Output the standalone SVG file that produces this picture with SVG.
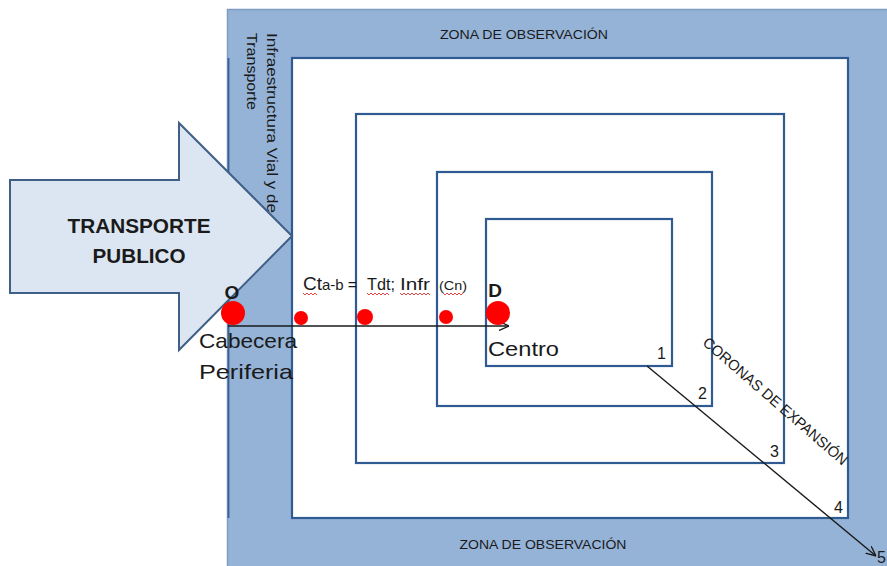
<svg xmlns="http://www.w3.org/2000/svg" width="887" height="566" viewBox="0 0 887 566">
<style>
.sq{fill:#ffffff;stroke:#2f5b92;stroke-width:2.2}
.t{font-family:"Liberation Sans",Arial,sans-serif;fill:#1a1a1a}
.lbl{font-family:"Liberation Sans",Arial,sans-serif;fill:#1a1a1a;font-size:13px}
.num{font-family:"Liberation Sans",Arial,sans-serif;fill:#1a1a1a;font-size:16px}
.b{font-weight:bold}
.dot{fill:#ff0000}
.con{stroke:#1a1a1a;stroke-width:1.4;fill:none}
.wavy{stroke:#e03030;stroke-width:0.9;fill:none}
</style>
<defs>
<marker id="ah" viewBox="0 0 10 10" refX="10" refY="5" markerWidth="10" markerHeight="10" markerUnits="userSpaceOnUse" orient="auto">
<path d="M0,0.5 L10,5 L0,9.5" fill="none" stroke="#1a1a1a" stroke-width="1.3"/>
</marker>
</defs>
<rect width="887" height="566" fill="#ffffff"/>
<g id="zona-observacion">
<rect x="227.5" y="9.5" width="700" height="600" fill="#95b3d7" stroke="#7f9cc4" stroke-width="1.5"/>
<line x1="228.5" y1="58" x2="228.5" y2="518" stroke="#3a6091" stroke-width="1.8"/>
<text class="lbl" x="524" y="39" text-anchor="middle" textLength="168" lengthAdjust="spacingAndGlyphs">ZONA DE OBSERVACIÓN</text>
<text class="lbl" x="543" y="549" text-anchor="middle" textLength="167" lengthAdjust="spacingAndGlyphs">ZONA DE OBSERVACIÓN</text>
</g>
<g id="infraestructura">
<text class="t" font-size="14" transform="translate(267,33) rotate(90)" textLength="180" lengthAdjust="spacingAndGlyphs">Infraestructura  Vial y de</text>
<text class="t" font-size="14" transform="translate(247,33) rotate(90)" textLength="77" lengthAdjust="spacingAndGlyphs">Transporte</text>
</g>
<g id="corona-4">
<rect class="sq" x="292" y="58" width="556" height="460"/>
<text class="num" x="834" y="513">4</text>
</g>
<g id="corona-3">
<rect class="sq" x="356" y="114" width="428" height="349"/>
<text class="num" x="770" y="457">3</text>
</g>
<g id="corona-2">
<rect class="sq" x="437" y="172" width="275" height="234"/>
<text class="num" x="698" y="399">2</text>
</g>
<g id="corona-1">
<rect class="sq" x="486" y="219" width="186" height="147"/>
<text class="num" x="657" y="359">1</text>
</g>
<g id="transporte-publico">
<polygon points="10,180 179,180 179,123 292,236 179,350 179,293 10,293" fill="#dce6f2" stroke="#3f5f86" stroke-width="2" stroke-linejoin="miter"/>
<text class="t b" font-size="20" x="139" y="233" text-anchor="middle" textLength="143" lengthAdjust="spacingAndGlyphs">TRANSPORTE</text>
<text class="t b" font-size="20" x="139" y="263" text-anchor="middle" textLength="93" lengthAdjust="spacingAndGlyphs">PUBLICO</text>
</g>
<g id="connectors">
<line class="con" x1="228" y1="326" x2="509" y2="326" marker-end="url(#ah)"/>
<line class="con" x1="647" y1="366" x2="876" y2="556" marker-end="url(#ah)"/>
</g>
<g id="origen">
<circle class="dot" cx="233" cy="313" r="12"/>
<text class="t b" font-size="19" x="232" y="299" text-anchor="middle">O</text>
<text class="t" font-size="21" x="199" y="348" textLength="98" lengthAdjust="spacingAndGlyphs">Cabecera</text>
<text class="t" font-size="21" x="199" y="379" textLength="94" lengthAdjust="spacingAndGlyphs">Periferia</text>
</g>
<g id="puntos">
<circle class="dot" cx="301" cy="318" r="7"/>
<circle class="dot" cx="365" cy="317" r="8"/>
<circle class="dot" cx="446" cy="317" r="7"/>
</g>
<g id="destino">
<circle class="dot" cx="498" cy="313" r="12"/>
<text class="t b" font-size="19" x="495" y="297" text-anchor="middle">D</text>
<text class="t" font-size="21" x="488" y="356" textLength="71" lengthAdjust="spacingAndGlyphs">Centro</text>
</g>
<g id="formula">
<text class="t" x="303" y="290"><tspan font-size="19">Ct</tspan><tspan font-size="15">a-b</tspan><tspan font-size="16" dx="4">=</tspan></text>
<text class="t" font-size="16" x="367" y="290" textLength="28" lengthAdjust="spacingAndGlyphs">Tdt;</text>
<text class="t" font-size="16" x="400" y="290" textLength="30" lengthAdjust="spacingAndGlyphs">Infr</text>
<text class="t" font-size="12" x="439" y="290" textLength="28" lengthAdjust="spacingAndGlyphs">(Cn)</text>
<path class="wavy" d="M303,293 l2,2 l2,-2 l2,2 l2,-2 l2,2 l2,-2 l2,2"/>
<path class="wavy" d="M367,293 l2,2 l2,-2 l2,2 l2,-2 l2,2 l2,-2 l2,2 l2,-2 l2,2 l2,-2 l2,2"/>
<path class="wavy" d="M400,293 l2,2 l2,-2 l2,2 l2,-2 l2,2 l2,-2 l2,2 l2,-2 l2,2 l2,-2 l2,2 l2,-2 l2,2 l2,-2 l2,2"/>
<path class="wavy" d="M443,293 l2,2 l2,-2 l2,2 l2,-2 l2,2 l2,-2 l2,2 l2,-2 l2,2 l2,-2"/>
</g>
<g id="coronas-label">
<text class="t" font-size="15" transform="translate(772,405) rotate(41)" text-anchor="middle" textLength="186" lengthAdjust="spacingAndGlyphs">CORONAS  DE EXPANSIÓN</text>
<text class="num" x="877" y="563">5</text>
</g>
</svg>
